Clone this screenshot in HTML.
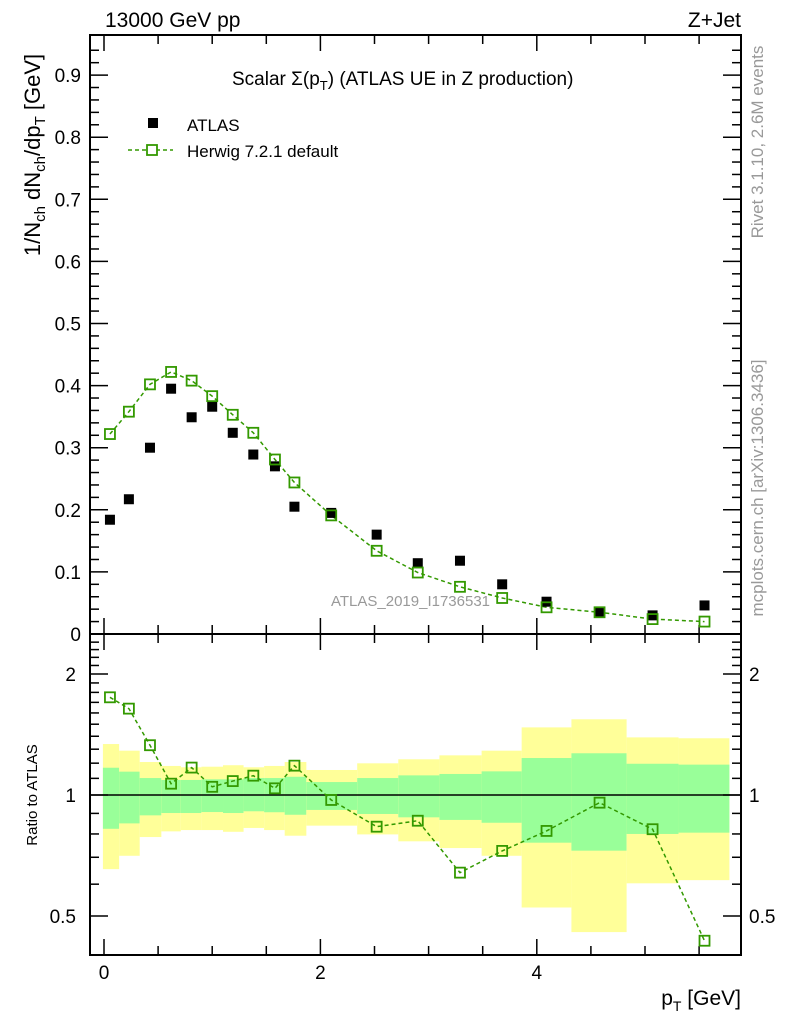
<!DOCTYPE html>
<html><head><meta charset="utf-8"><style>
body{margin:0;background:#fff;}
svg{display:block;font-family:"Liberation Sans",sans-serif;}
</style></head><body>
<svg id="c" width="786" height="1024" viewBox="0 0 786 1024"></svg>
<script>
const ptX=[0.055,0.23,0.425,0.62,0.81,1.0,1.19,1.38,1.58,1.76,2.1,2.52,2.9,3.29,3.68,4.09,4.58,5.07,5.55];
const atlasY=[0.184,0.217,0.300,0.395,0.349,0.366,0.324,0.289,0.270,0.205,0.195,0.160,0.114,0.118,0.080,0.052,0.035,0.030,0.046];
const herwigY=[0.322,0.358,0.402,0.422,0.408,0.383,0.353,0.324,0.281,0.244,0.191,0.134,0.099,0.076,0.058,0.043,0.035,0.024,0.020];
const ratioY=[1.75,1.64,1.33,1.067,1.17,1.048,1.083,1.117,1.039,1.183,0.972,0.834,0.863,0.641,0.726,0.814,0.957,0.822,0.434];
const binEdges=[-0.01,0.14,0.33,0.53,0.71,0.9,1.1,1.29,1.48,1.67,1.87,2.34,2.72,3.1,3.49,3.86,4.32,4.83,5.31,5.78];
const yellowHi=[1.339,1.289,1.208,1.181,1.172,1.176,1.186,1.172,1.181,1.208,1.154,1.199,1.227,1.255,1.289,1.473,1.543,1.391,1.384];
const greenHi=[1.169,1.143,1.102,1.090,1.090,1.094,1.094,1.102,1.102,1.110,1.077,1.102,1.119,1.128,1.145,1.236,1.270,1.196,1.190];
const greenLo=[0.824,0.850,0.890,0.902,0.902,0.907,0.902,0.911,0.906,0.893,0.918,0.897,0.880,0.867,0.853,0.761,0.727,0.800,0.806];
const yellowLo=[0.654,0.706,0.786,0.812,0.818,0.818,0.810,0.828,0.818,0.792,0.839,0.798,0.767,0.738,0.706,0.525,0.456,0.603,0.614];
const mainTicks=[0,0.1,0.2,0.3,0.4,0.5,0.6,0.7,0.8,0.9];
const mainTickLabels=["0","0.1","0.2","0.3","0.4","0.5","0.6","0.7","0.8","0.9"];
const xTicks=[0,2,4];
const ratioTicks=[0.5,1,2];

const L=90,R=741,T=35,MB=634,RB=955;
const X=v=>104+v*108.2;
const Ym=v=>634-v*621;
const Yr=v=>795-Math.log10(v)*402;
const svg=document.getElementById('c');
const NS='http://www.w3.org/2000/svg';
function mk(tag,attrs,parent){const e=document.createElementNS(NS,tag);for(const k in attrs)e.setAttribute(k,attrs[k]);(parent||svg).appendChild(e);return e;}
function txt(s,attrs){const e=mk('text',attrs);e.textContent=s;return e;}

for(let i=0;i<binEdges.length-1;i++){
  const x1=X(binEdges[i]),x2=X(binEdges[i+1]);
  const y=mk('rect',{x:x1,y:Yr(yellowHi[i]),width:x2-x1,height:Yr(yellowLo[i])-Yr(yellowHi[i]),fill:'#ffff99'});
  
  
  const g=mk('rect',{x:x1,y:Yr(greenHi[i]),width:x2-x1,height:Yr(greenLo[i])-Yr(greenHi[i]),fill:'#99ff99'});
  
  
}
mk('line',{x1:L,x2:R,y1:Yr(1),y2:Yr(1),stroke:'#000','stroke-width':1.5});

mk('rect',{x:L,y:T,width:R-L,height:MB-T,fill:'none',stroke:'#000','stroke-width':2});
mk('rect',{x:L,y:MB,width:R-L,height:RB-MB,fill:'none',stroke:'#000','stroke-width':2});

for(let v=0;v<=0.96;v+=0.02){
  const maj=Math.abs(v*10-Math.round(v*10))<1e-6;const len=maj?18:9;const y=Ym(v);
  mk('line',{x1:L,x2:L+len,y1:y,y2:y,stroke:'#000','stroke-width':1.5});
  mk('line',{x1:R,x2:R-len,y1:y,y2:y,stroke:'#000','stroke-width':1.5});
}
mainTicks.forEach((v,i)=>{const t=txt(mainTickLabels[i],{x:81,y:Ym(v)+7,'font-size':19,'text-anchor':'end'});
  });
for(let v=0;v<=5.8;v+=0.5){
  const maj=Math.abs(v-2*Math.round(v/2))<1e-6;const len=maj?16:9;const x=X(v);
  mk('line',{x1:x,x2:x,y1:T,y2:T+len,stroke:'#000','stroke-width':1.5});
  mk('line',{x1:x,x2:x,y1:MB,y2:MB-len,stroke:'#000','stroke-width':1.5});
  mk('line',{x1:x,x2:x,y1:MB,y2:MB+len,stroke:'#000','stroke-width':1.5});
  mk('line',{x1:x,x2:x,y1:RB,y2:RB-len,stroke:'#000','stroke-width':1.5});
}
xTicks.forEach(v=>{const t=txt(String(v),{x:X(v),y:979,'font-size':19,'text-anchor':'middle'});
  });
for(let v=0.4;v<=2.45;v+=0.1){
  const maj=[0.5,1,2].some(m=>Math.abs(m-v)<1e-6);const len=maj?18:9;const y=Yr(v);
  if(y<MB||y>RB)continue;
  mk('line',{x1:L,x2:L+len,y1:y,y2:y,stroke:'#000','stroke-width':1.5});
  mk('line',{x1:R,x2:R-len,y1:y,y2:y,stroke:'#000','stroke-width':1.5});
}
ratioTicks.forEach(v=>{
  const a=txt(String(v),{x:76,y:Yr(v)+7,'font-size':19,'text-anchor':'end'});
  
  const b=txt(String(v),{x:749,y:Yr(v)+7,'font-size':19});
  
});

const w=txt('ATLAS_2019_I1736531',{x:331,y:606,'font-size':15,fill:'#999'});


const hp=mk('polyline',{points:ptX.map((x,i)=>X(x)+','+Ym(herwigY[i])).join(' '),fill:'none',stroke:'#339900','stroke-width':1.5,'stroke-dasharray':'4,3'});

ptX.forEach((x,i)=>{
  const a=mk('rect',{x:X(x)-5,y:Ym(atlasY[i])-5,width:10,height:10,fill:'#000'});
  
});
ptX.forEach((x,i)=>{
  const h=mk('rect',{x:X(x)-5,y:Ym(herwigY[i])-5,width:10,height:10,fill:'none',stroke:'#339900','stroke-width':1.8});
  
});
const rp=mk('polyline',{points:ptX.map((x,i)=>X(x)+','+Yr(ratioY[i])).join(' '),fill:'none',stroke:'#339900','stroke-width':1.5,'stroke-dasharray':'4,3'});

ptX.forEach((x,i)=>{
  const h=mk('rect',{x:X(x)-5,y:Yr(ratioY[i])-5,width:10,height:10,fill:'none',stroke:'#339900','stroke-width':1.8});
  
});
</script>
<svg width="786" height="1024" style="position:absolute;left:0;top:0" font-family="Liberation Sans, sans-serif">
<text x="105" y="27" font-size="21">13000 GeV pp</text>
<text x="741" y="27" font-size="21" text-anchor="end">Z+Jet</text>
<text x="232" y="85" font-size="19">Scalar Σ(p<tspan font-size="13" dy="5">T</tspan><tspan dy="-5">) (ATLAS UE in Z production)</tspan></text>
<rect x="148" y="118" width="10" height="10" fill="#000"/>
<text x="187" y="131" font-size="17">ATLAS</text>
<line x1="128" x2="173" y1="150" y2="150" stroke="#339900" stroke-width="1.5" stroke-dasharray="4,3"/>
<rect x="147" y="145" width="10" height="10" fill="#fff" stroke="#339900" stroke-width="1.8"/>
<text x="187" y="157" font-size="17">Herwig 7.2.1 default</text>
<text transform="translate(40,155) rotate(-90)" font-size="22" text-anchor="middle">1/N<tspan font-size="15" dy="5">ch</tspan><tspan dy="-5"> dN</tspan><tspan font-size="15" dy="5">ch</tspan><tspan dy="-5">/dp</tspan><tspan font-size="15" dy="5">T</tspan><tspan dy="-5"> [GeV]</tspan></text>
<text transform="translate(37,795) rotate(-90)" font-size="15" text-anchor="middle">Ratio to ATLAS</text>
<text x="741" y="1005" font-size="21" text-anchor="end">p<tspan font-size="14" dy="6">T</tspan><tspan dy="-6"> [GeV]</tspan></text>
<text transform="translate(763,142) rotate(-90)" font-size="17" fill="#999" text-anchor="middle">Rivet 3.1.10,  2.6M events</text>
<text transform="translate(763,488) rotate(-90)" font-size="17" fill="#999" text-anchor="middle">mcplots.cern.ch [arXiv:1306.3436]</text>
</svg>
</body></html>
